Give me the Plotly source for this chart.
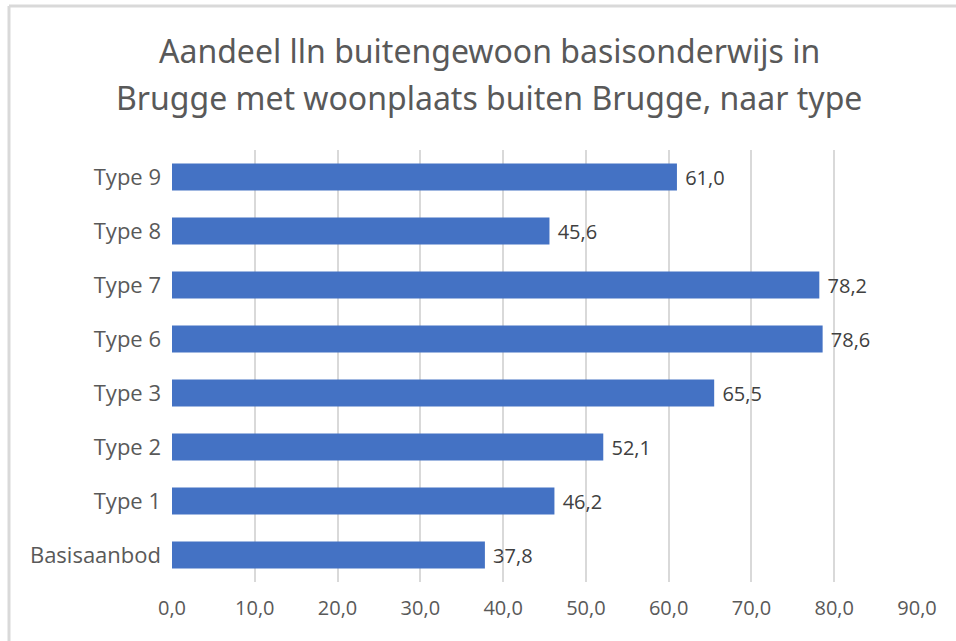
import plotly.graph_objects as go

categories = ["Basisaanbod", "Type 1", "Type 2", "Type 3", "Type 6", "Type 7", "Type 8", "Type 9"]
values = [37.8, 46.2, 52.1, 65.5, 78.6, 78.2, 45.6, 61.0]
tick_vals = [0, 10, 20, 30, 40, 50, 60, 70, 80, 90]
tick_text = ["0,0", "10,0", "20,0", "30,0", "40,0", "50,0", "60,0", "70,0", "80,0", "90,0"]
title_lines = ["Aandeel lln buitengewoon basisonderwijs in",
               "Brugge met woonplaats buiten Brugge, naar type"]

labels = ["\u00a0" + f"{v:.1f}".replace(".", ",") for v in values]

W, H = 956, 641
L, R, T, B = 172, 39, 150, 59
pw, ph = W - L - R, H - T - B


def px_x(p):
    return (p - L) / pw


def px_y(p):
    return (H - B - p) / ph


fig = go.Figure(go.Bar(
    x=values, y=categories, orientation="h",
    marker=dict(color="#4472C4", line=dict(width=0)),
    text=labels, textposition="outside", cliponaxis=False,
    textfont=dict(family="Open Sans", size=20, color="#404040"),
    width=0.5,
))

annotations = []
for line, yc in zip(title_lines, [50, 97]):
    annotations.append(dict(
        text=line, xref="paper", yref="paper", x=px_x(489), y=px_y(yc),
        xanchor="center", yanchor="middle", showarrow=False,
        font=dict(family="Noto Sans", size=32, color="#595959"),
    ))

fig.update_layout(
    width=W, height=H,
    margin=dict(l=L, r=R, t=T, b=B, autoexpand=False),
    paper_bgcolor="white", plot_bgcolor="white",
    showlegend=False,
    annotations=annotations,
    xaxis=dict(range=[0, 90], tickvals=tick_vals, ticktext=tick_text,
               showgrid=True, gridcolor="#D9D9D9", gridwidth=2,
               zeroline=False, showline=False, ticks="",
               ticklabelstandoff=12,
               tickfont=dict(family="Open Sans", size=20, color="#595959")),
    yaxis=dict(categoryorder="array", categoryarray=categories,
               showgrid=False, zeroline=False, showline=False, ticks="",
               ticklabelstandoff=10,
               tickfont=dict(family="Open Sans", size=22, color="#595959")),
    shapes=[
        dict(type="line", xref="paper", yref="paper", x0=px_x(9), x1=px_x(W + 5),
             y0=px_y(6), y1=px_y(6), line=dict(color="#D9D9D9", width=3)),
        dict(type="line", xref="paper", yref="paper", x0=px_x(9), x1=px_x(9),
             y0=px_y(6), y1=px_y(H + 5), line=dict(color="#D9D9D9", width=3)),
    ],
)

fig.write_html("out.html", config={"displayModeBar": False},
               post_script="document.body.style.margin='0px';")
